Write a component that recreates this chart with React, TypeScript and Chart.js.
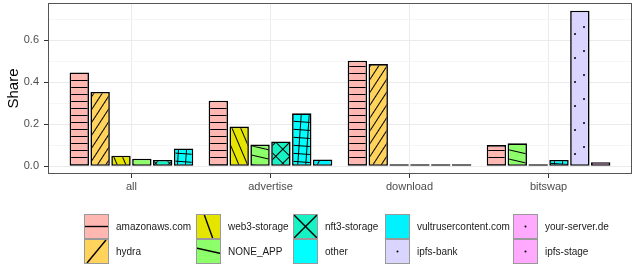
import React, { useEffect, useRef } from 'react';
import { Chart, registerables } from 'chart.js';
Chart.register(...registerables);

const categories = ['all', 'advertise', 'download', 'bitswap'];
const seriesNames = [
  'amazonaws.com', 'hydra', 'web3-storage', 'NONE_APP', 'nft3-storage',
  'other', 'vultrusercontent.com', 'ipfs-bank', 'your-server.de', 'ipfs-stage',
];
const amazonaws = [0.447, 0.312, 0.503, 0.101];
const hydra = [0.354, null, 0.487, null];
const web3Storage = [0.05, 0.189, 0.002, null];
const noneApp = [0.036, 0.103, 0.004, 0.109];
const nft3Storage = [0.03, 0.118, 0.002, 0.002];
const other = [0.085, 0.252, 0.001, 0.03];
const vultrusercontent = [null, 0.032, null, null];
const ipfsBank = [null, null, null, 0.741];
const yourServer = [null, null, null, 0.019];
const ipfsStage = [null, null, null, null];
const seriesValues: (number | null)[][] = [
  amazonaws, hydra, web3Storage, noneApp, nft3Storage,
  other, vultrusercontent, ipfsBank, yourServer, ipfsStage,
];
const yMajorTicks = [0, 0.2, 0.4, 0.6];
const yMinorTicks = [0.1, 0.3, 0.5, 0.7];

const fills = ['#FFB8B1', '#FFD35C', '#E5E500', '#8DFF6B', '#17F2C5', '#00FFFF', '#00F2FF', '#DAD5FF', '#FFA9FF', '#FFA9FF'];
type PSpec = { kind: 'stripe' | 'cross' | 'dots' | 'none'; spacing?: number; angle?: number };
const patternSpecs: PSpec[] = [
  { kind: 'stripe', spacing: 7, angle: 0 },
  { kind: 'stripe', spacing: 7, angle: -57 },
  { kind: 'stripe', spacing: 8, angle: 67 },
  { kind: 'stripe', spacing: 9, angle: 13 },
  { kind: 'cross', spacing: 10, angle: 45 },
  { kind: 'cross', spacing: 8, angle: 4 },
  { kind: 'stripe', spacing: 14, angle: -62 },
  { kind: 'dots' },
  { kind: 'dots' },
  { kind: 'dots' },
];

function makePattern(ctx: CanvasRenderingContext2D, spec: PSpec, fill: string): CanvasPattern | string {
  if (spec.kind === 'none') return fill;
  const tile = document.createElement('canvas');
  let w = spec.spacing || 8, h = spec.spacing || 8;
  if (spec.kind === 'dots') { w = 20; h = 24; }
  tile.width = w; tile.height = h;
  const t = tile.getContext('2d')!;
  t.fillStyle = fill;
  t.fillRect(0, 0, w, h);
  t.fillStyle = '#000';
  if (spec.kind === 'stripe' || spec.kind === 'cross') {
    t.fillRect(0, Math.floor(h / 2), w, 1);
    if (spec.kind === 'cross') t.fillRect(Math.floor(w / 2), 0, 1, h);
  } else {
    const pts = [[4, 3], [15, 10], [9, 18]];
    for (const [x, y] of pts) { t.beginPath(); t.arc(x, y, 1, 0, Math.PI * 2); t.fill(); }
  }
  const p = ctx.createPattern(tile, 'repeat')!;
  if (spec.angle) p.setTransform(new DOMMatrix().rotate(spec.angle));
  return p;
}

function drawKeyMark(ctx: CanvasRenderingContext2D, i: number, x: number, y: number, s: number) {
  ctx.strokeStyle = '#000';
  ctx.fillStyle = '#000';
  ctx.lineWidth = 1.4;
  const line = (x1: number, y1: number, x2: number, y2: number) => {
    ctx.beginPath(); ctx.moveTo(x + x1, y + y1); ctx.lineTo(x + x2, y + y2); ctx.stroke();
  };
  if (i === 0) line(0, s / 2, s, s / 2);
  else if (i === 1) line(3, s - 1, s - 3, 1);
  else if (i === 2) line(8, 0, 17, s);
  else if (i === 3) line(0, 9, s, 14.5);
  else if (i === 4) { line(0, 0, s, s); line(s, 0, 0, s); }
  else if (i >= 7) { ctx.beginPath(); ctx.arc(x + s / 2, y + s / 2, 1, 0, Math.PI * 2); ctx.fill(); }
}

export default function App() {
  const ref = useRef<HTMLCanvasElement>(null);
  useEffect(() => {
    const canvas = ref.current!;
    const c2d = canvas.getContext('2d')!;
    Chart.defaults.font.family = '"Liberation Sans", Arial, sans-serif';
    const patterns = fills.map((f, i) => makePattern(c2d, patternSpecs[i], f));

    const present = categories.map((_, c) =>
      seriesValues.map((vals, s) => ({ s, v: vals[c] })).filter((e) => e.v !== null)
    );
    const slotCount = Math.max(...present.map((p) => p.length));
    const datasets = [] as any[];
    for (let k = 0; k < slotCount; k++) {
      const data: any[] = [];
      const bg: any[] = [];
      categories.forEach((_, c) => {
        const e = present[c][k];
        if (e) { data.push({ x: c + 1, y: e.v }); bg.push(patterns[e.s]); }
      });
      datasets.push({
        label: 'slot' + k, data, backgroundColor: bg, borderColor: '#000', borderWidth: 1.6,
        borderSkipped: false, minBarLength: 2, barPercentage: 0.93, categoryPercentage: 0.9,
      });
    }
    const maxVal = Math.max(...seriesValues.flat().filter((v) => v !== null) as number[]);
    const pad = maxVal * 0.05;
    const isMajor = (v: number) => yMajorTicks.some((m) => Math.abs(m - v) < 1e-9);

    const panelPlugin = {
      id: 'panel',
      afterDraw(chart: any) {
        const { ctx, chartArea: a } = chart;
        ctx.save();
        ctx.strokeStyle = '#555';
        ctx.lineWidth = 1;
        ctx.strokeRect(Math.round(a.left) + 0.5, Math.round(a.top) + 0.5, Math.round(a.right - a.left) - 1, Math.round(a.bottom - a.top) - 1);
        const keyX = [84, 196, 293, 385, 513];
        const keyTop = 214, ks = 25;
        ctx.font = '10px "Liberation Sans", Arial, sans-serif';
        ctx.textBaseline = 'middle';
        ctx.textAlign = 'left';
        seriesNames.forEach((name, i) => {
          const col = Math.floor(i / 2), row = i % 2;
          const x = keyX[col], y = keyTop + row * ks;
          ctx.fillStyle = fills[i];
          ctx.fillRect(x, y, ks, ks);
          ctx.save();
          ctx.beginPath(); ctx.rect(x, y, ks, ks); ctx.clip();
          drawKeyMark(ctx, i, x, y, ks);
          ctx.restore();
          ctx.strokeStyle = '#999';
          ctx.lineWidth = 1;
          ctx.strokeRect(x + 0.5, y + 0.5, ks - 1, ks - 1);
          ctx.fillStyle = '#1a1a1a';
          ctx.fillText(name, x + ks + 7, y + ks / 2 + 0.5);
        });
        ctx.restore();
      },
    };

    const chart = new Chart(canvas, {
      type: 'bar',
      data: { datasets },
      plugins: [panelPlugin],
      options: {
        animation: false,
        responsive: false,
        layout: { padding: { top: 3, right: 2, bottom: 73, left: 0 } },
        plugins: { legend: { display: false }, tooltip: { enabled: false } },
        scales: {
          x: {
            type: 'linear', min: 0.4, max: categories.length + 0.6, offset: false,
            afterBuildTicks: (s: any) => { s.ticks = categories.map((_, i) => ({ value: i + 1 })); },
            afterFit: (s: any) => { s.height = 20; s.paddingLeft = 0; s.paddingRight = 0; },
            ticks: {
              callback: (v: any) => categories[Math.round(v) - 1] ?? '',
              color: '#4D4D4D', font: { size: 11 }, padding: 2, autoSkip: false, maxRotation: 0,
            },
            grid: { color: '#EBEBEB', lineWidth: 1, drawTicks: true, tickLength: 4, tickColor: '#333', offset: false },
            border: { display: false },
          },
          y: {
            type: 'linear', min: -pad, max: maxVal + pad,
            afterBuildTicks: (s: any) => {
              s.ticks = [...yMajorTicks, ...yMinorTicks].sort((a, b) => a - b).map((v) => ({ value: v }));
            },
            afterFit: (s: any) => { s.width = 48; s.paddingTop = 0; s.paddingBottom = 0; },
            ticks: {
              callback: (v: any) => (isMajor(v) ? Number(v).toFixed(1) : ''),
              color: '#4D4D4D', font: { size: 11 }, padding: 5,
            },
            grid: {
              color: (ctx: any) => (isMajor(ctx.tick.value) ? '#EBEBEB' : '#F5F5F5'),
              tickColor: (ctx: any) => (isMajor(ctx.tick.value) ? '#333' : 'rgba(0,0,0,0)'),
              lineWidth: 1, drawTicks: true, tickLength: 4,
            },
            border: { display: false },
            title: { display: true, text: 'Share', color: '#000', font: { size: 15 }, padding: { top: 5, bottom: 0 } },
          },
        },
      } as any,
    });
    return () => chart.destroy();
  }, []);
  return (
    <div style={{ position: 'absolute', left: 0, top: 0, width: 634, height: 267, background: '#fff' }}>
      <canvas ref={ref} width={634} height={267} />
    </div>
  );
}
